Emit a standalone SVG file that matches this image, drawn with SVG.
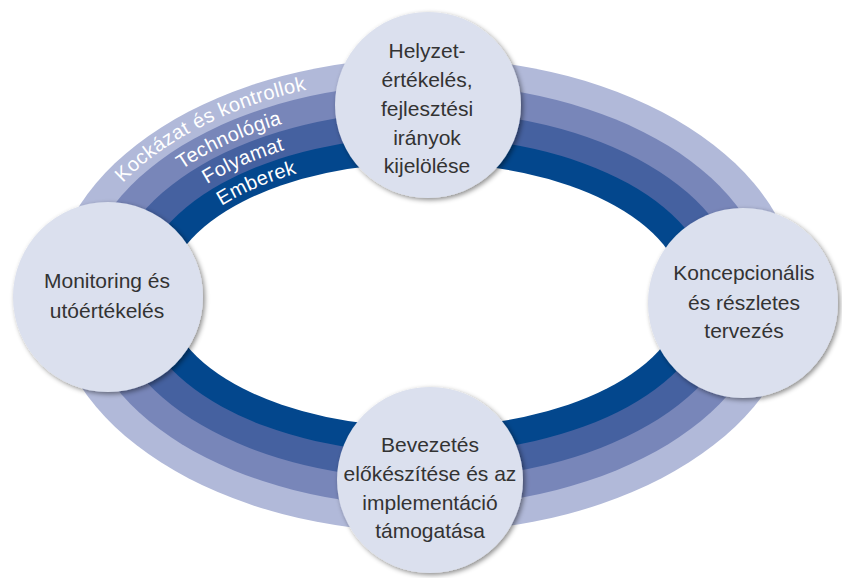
<svg xmlns="http://www.w3.org/2000/svg" width="842" height="578" viewBox="0 0 842 578">
<defs>
<style>
.node{fill:#dbe0ee;filter:url(#sh);}
.nt{font-family:"Liberation Sans",Arial,sans-serif;font-size:21px;fill:#333333;text-anchor:middle;}
.rt{font-family:"Liberation Sans",Arial,sans-serif;font-size:20px;fill:#ffffff;letter-spacing:0.4px;}
</style>
<filter id="sh" x="-20%" y="-20%" width="140%" height="140%">
<feDropShadow dx="2" dy="2" stdDeviation="2.5" flood-color="#000000" flood-opacity="0.45"/>
</filter>
<path id="p1" d="M123,183 A352,218 0 0 1 777,295"/>
<path id="p2" d="M181.8,169.5 A323,191 0 0 1 748,295"/>
<path id="p3" d="M207.1,184.1 A294,165 0 0 1 719,295"/>
<path id="p4" d="M221.7,205.9 A265,139 0 0 1 690,295"/>
</defs>
<rect width="842" height="578" fill="#ffffff"/>
<g id="ring">
<ellipse cx="425" cy="295" rx="373" ry="237" fill="#b1b9d9"/>
<ellipse cx="425" cy="295" rx="344" ry="211" fill="#7886b9"/>
<ellipse cx="425" cy="295" rx="316" ry="184" fill="#4561a0"/>
<ellipse cx="425" cy="295" rx="287" ry="158" fill="#03478d"/>
<ellipse cx="425" cy="295" rx="258" ry="132" fill="#ffffff"/>
<text class="rt"><textPath href="#p1">Kockázat és kontrollok</textPath></text>
<text class="rt"><textPath href="#p2">Technológia</textPath></text>
<text class="rt"><textPath href="#p3">Folyamat</textPath></text>
<text class="rt"><textPath href="#p4">Emberek</textPath></text>
</g>
<g id="connectors"></g>
<g id="n-top">
<circle class="node" cx="428" cy="105" r="93"/>
<text class="nt" x="427" y="58">Helyzet-</text>
<text class="nt" x="427" y="87">értékelés,</text>
<text class="nt" x="427" y="116">fejlesztési</text>
<text class="nt" x="427" y="145">irányok</text>
<text class="nt" x="427" y="173">kijelölése</text>
</g>
<g id="n-right">
<circle class="node" cx="743" cy="303" r="95"/>
<text class="nt" x="744" y="280">Koncepcionális</text>
<text class="nt" x="744" y="310">és részletes</text>
<text class="nt" x="744" y="338">tervezés</text>
</g>
<g id="n-bottom">
<circle class="node" cx="430" cy="480" r="93"/>
<text class="nt" x="430" y="452">Bevezetés</text>
<text class="nt" x="430" y="481">előkészítése és az</text>
<text class="nt" x="430" y="510">implementáció</text>
<text class="nt" x="430" y="538">támogatása</text>
</g>
<g id="n-left">
<circle class="node" cx="108" cy="297" r="95"/>
<text class="nt" x="107" y="288">Monitoring és</text>
<text class="nt" x="107" y="318">utóértékelés</text>
</g>
</svg>
